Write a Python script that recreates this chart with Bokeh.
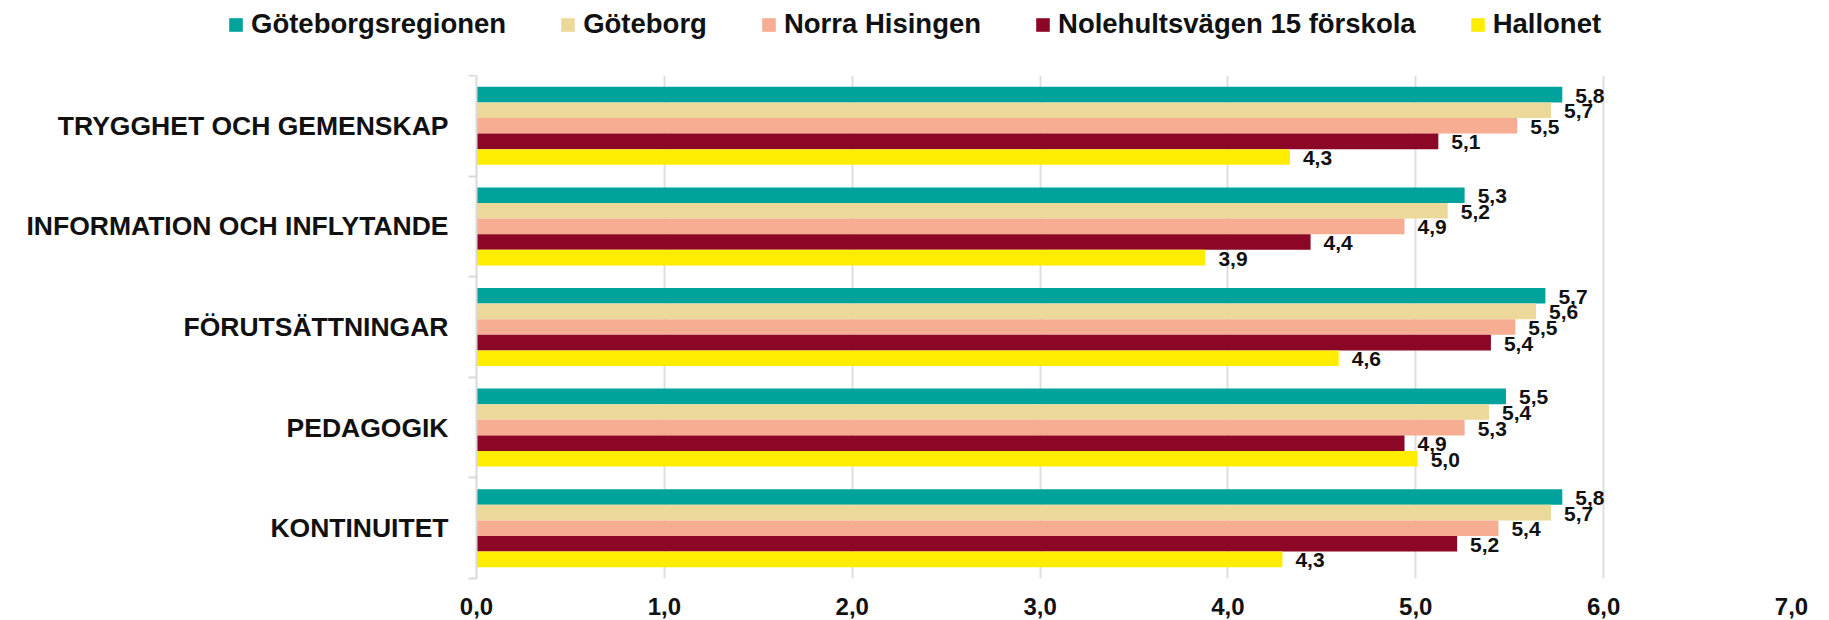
from bokeh.plotting import figure
from bokeh.models import (ColumnDataSource, Range1d, FixedTicker, Legend, LegendItem,
                          LabelSet)
from bokeh.transform import dodge
from bokeh.core.properties import value
from bokeh.embed import file_html
from bokeh.resources import INLINE

categories = ["TRYGGHET OCH GEMENSKAP", "INFORMATION OCH INFLYTANDE",
              "FÖRUTSÄTTNINGAR", "PEDAGOGIK", "KONTINUITET"]
series_names = ["Göteborgsregionen", "Göteborg", "Norra Hisingen",
                "Nolehultsvägen 15 förskola", "Hallonet"]
goteborgsregionen = [5.78, 5.26, 5.69, 5.48, 5.78]
goteborg = [5.72, 5.17, 5.64, 5.39, 5.72]
norra_hisingen = [5.54, 4.94, 5.53, 5.26, 5.44]
nolehultsvagen = [5.12, 4.44, 5.40, 4.94, 5.22]
hallonet = [4.33, 3.88, 4.59, 5.01, 4.29]
x_ticks = [0, 1, 2, 3, 4, 5, 6, 7]

colors = ["#00a39b", "#ecd898", "#f6ad91", "#8c0625", "#ffed00"]
series_values = [goteborgsregionen, goteborg, norra_hisingen, nolehultsvagen, hallonet]

FONT = "Liberation Sans"
W = 1829
TOP_H = 75
MAIN_H = 545

# ---------------- main chart ----------------
p = figure(width=W, height=MAIN_H, output_backend="svg", toolbar_location=None,
           x_range=Range1d(0, 7), y_range=Range1d(len(categories), 0),
           min_border_left=476, min_border_right=38, min_border_top=0,
           min_border_bottom=42)
p.outline_line_color = None
p.background_fill_color = "white"

centers = [i + 0.5 for i in range(len(categories))]
bar_h = 0.155
offsets = [(k - 2) * bar_h for k in range(5)]

for k, (name, vals, col) in enumerate(zip(series_names, series_values, colors)):
    src = ColumnDataSource(dict(y=centers, v=vals,
                                lbl=[f"{v:.1f}".replace(".", ",") for v in vals]))
    p.hbar(y=dodge("y", offsets[k], range=p.y_range), right="v", left=0,
           height=bar_h, source=src, fill_color=col, line_color=None)
    lab = LabelSet(x="v", y=dodge("y", offsets[k], range=p.y_range), text="lbl",
                   source=src, x_offset=13, y_offset=-1,
                   text_font=value(FONT), text_font_style="bold",
                   text_font_size="21px", text_color="#111111",
                   text_baseline="middle", text_align="left")
    p.add_layout(lab)

# x axis
p.xaxis.ticker = FixedTicker(ticks=x_ticks)
p.xaxis.major_label_overrides = {t: f"{t:.1f}".replace(".", ",") for t in x_ticks}
p.xaxis.axis_line_color = None
p.xaxis.major_tick_line_color = None
p.xaxis.minor_tick_line_color = None
p.xaxis.major_label_text_font = FONT
p.xaxis.major_label_text_font_style = "bold"
p.xaxis.major_label_text_font_size = "24px"
p.xaxis.major_label_text_color = "#111111"
p.xaxis.major_label_standoff = 13

# y axis
p.yaxis.ticker = FixedTicker(ticks=centers, minor_ticks=list(range(len(categories) + 1)))
p.yaxis.major_label_overrides = {c: n for c, n in zip(centers, categories)}
p.yaxis.axis_line_color = "#d9d9d9"
p.yaxis.axis_line_width = 2
p.yaxis.major_tick_line_color = None
p.yaxis.minor_tick_line_color = "#d9d9d9"
p.yaxis.minor_tick_line_width = 2
p.yaxis.minor_tick_out = 8
p.yaxis.minor_tick_in = 0
p.yaxis.major_label_text_font = FONT
p.yaxis.major_label_text_font_style = "bold"
p.yaxis.major_label_text_font_size = "26.5px"
p.yaxis.major_label_text_color = "#111111"
p.yaxis.major_label_standoff = 20

p.xgrid.grid_line_color = "#dedede"
p.xgrid.grid_line_width = 2
p.ygrid.grid_line_color = None

# ---------------- legend strip (separate root, no frame alignment) ----------------
lg = figure(width=W, height=TOP_H, output_backend="svg", toolbar_location=None,
            x_range=Range1d(0, 1), y_range=Range1d(0, 1),
            min_border_left=0, min_border_right=0, min_border_top=0,
            min_border_bottom=0)
lg.axis.visible = False
lg.grid.visible = False
lg.outline_line_color = None

items = []
for name, col in zip(series_names, colors):
    # proxy renderer lying outside the visible range, only used for the legend swatch
    r = lg.hbar(y=[10], right=[11], left=[10], height=0.1, fill_color=col, line_color=None)
    items.append(LegendItem(label=name, renderers=[r]))

legend = Legend(items=items, orientation="horizontal", location=(227, 35),
                glyph_width=17, glyph_height=17, label_standoff=7, spacing=53,
                padding=0, margin=0, border_line_color=None,
                background_fill_alpha=0,
                label_text_font=FONT, label_text_font_style="bold",
                label_text_font_size="27.5px", label_text_color="#111111")
lg.add_layout(legend, "center")

open("out.html", "w").write(file_html([lg, p], INLINE))
